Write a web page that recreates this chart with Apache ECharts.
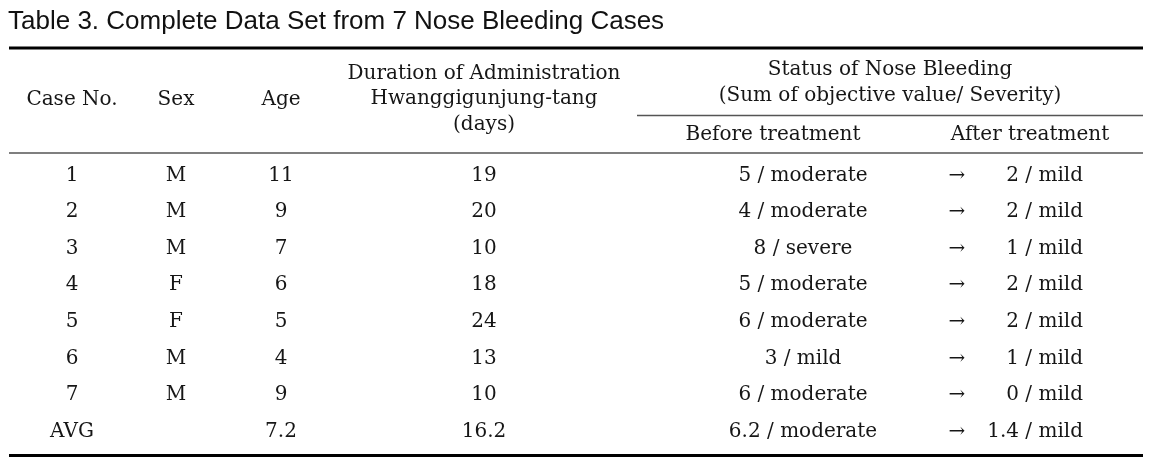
<!DOCTYPE html>
<html>
<head>
<meta charset="utf-8">
<script src="https://cdn.jsdelivr.net/npm/echarts@6/dist/echarts.min.js"></script>
<style>html,body{margin:0;padding:0;background:#fff;}#chart{width:1163px;height:462px;}</style>
</head>
<body>
<div id="chart"></div>
<script>
// ---- data ----
const titleText = 'Table 3. Complete Data Set from 7 Nose Bleeding Cases';
const caseNo = ['1', '2', '3', '4', '5', '6', '7', 'AVG'];
const sex = ['M', 'M', 'M', 'F', 'F', 'M', 'M', ''];
const age = ['11', '9', '7', '6', '5', '4', '9', '7.2'];
const duration = ['19', '20', '10', '18', '24', '13', '10', '16.2'];
const beforeScore = ['5', '4', '8', '5', '6', '3', '6', '6.2'];
const beforeSeverity = ['moderate', 'moderate', 'severe', 'moderate', 'moderate', 'mild', 'moderate', 'moderate'];
const afterScore = ['2', '2', '1', '2', '2', '1', '0', '1.4'];
const afterSeverity = ['mild', 'mild', 'mild', 'mild', 'mild', 'mild', 'mild', 'mild'];
const headCase = ['Case No.'];
const headSex = ['Sex'];
const headAge = ['Age'];
const headDuration = ['Duration of Administration', 'Hwanggigunjung-tang', '(days)'];
const headStatus = ['Status of Nose Bleeding', '(Sum of objective value/ Severity)'];
const headBefore = ['Before treatment'];
const headAfter = ['After treatment'];
const arrow = '\u2192';

// ---- layout ----
const SERIF = '"DejaVu Serif", serif';
const FS = 20;
const TXT = '#161616';
const colX = { caseNo: 72, sex: 176, age: 281, duration: 484, before: 803, arrow: 957, after: 1083 };
const rowIdx = caseNo.map((_, i) => i);

const columns = [
  { key: 'caseNo', text: caseNo, align: 'center' },
  { key: 'sex', text: sex, align: 'center' },
  { key: 'age', text: age, align: 'center' },
  { key: 'duration', text: duration, align: 'center' },
  { key: 'before', text: beforeScore.map((s, i) => s + ' / ' + beforeSeverity[i]), align: 'center' },
  { key: 'arrow', text: rowIdx.map(() => arrow), align: 'center' },
  { key: 'after', text: afterScore.map((s, i) => s + ' / ' + afterSeverity[i]), align: 'right' }
];

const series = columns.map(col => ({
  type: 'scatter',
  symbolSize: 0,
  silent: true,
  itemStyle: { opacity: 1, color: TXT },
  data: rowIdx.map(i => [colX[col.key], i]),
  label: {
    show: true,
    position: 'inside',
    align: col.align,
    verticalAlign: 'middle',
    fontFamily: SERIF,
    fontSize: FS,
    color: TXT,
    opacity: 1,
    textBorderWidth: 0,
    formatter: p => col.text[p.dataIndex]
  }
}));

function htext(str, x, y, align) {
  return { type: 'text', x: x, y: y, silent: true,
    style: { text: str, fill: TXT, font: FS + 'px ' + SERIF, textAlign: align || 'center', textVerticalAlign: 'middle' } };
}
function hline(x1, x2, y, w, c) {
  return { type: 'line', silent: true, shape: { x1: x1, y1: y, x2: x2, y2: y }, style: { stroke: c, lineWidth: w } };
}

const graphics = [
  hline(9, 1143, 48, 3, '#000'),
  hline(637, 1143, 115.5, 1.5, '#555'),
  hline(9, 1143, 153, 1.5, '#555'),
  hline(9, 1143, 455.5, 3, '#000'),
  htext(headCase[0], colX.caseNo, 100),
  htext(headSex[0], colX.sex, 100),
  htext(headAge[0], colX.age, 100),
  htext(headDuration[0], colX.duration, 74),
  htext(headDuration[1], colX.duration, 99),
  htext(headDuration[2], colX.duration, 125),
  htext(headStatus[0], 890, 70),
  htext(headStatus[1], 890, 96),
  htext(headBefore[0], 773, 135),
  htext(headAfter[0], 1030, 135)
];

const chart = echarts.init(document.getElementById('chart'), null, { renderer: 'canvas' });
chart.setOption({
  animation: false,
  backgroundColor: '#fff',
  title: {
    text: titleText, left: 3, top: 4,
    textStyle: { fontFamily: '"Liberation Sans", Arial, sans-serif', fontSize: 26, fontWeight: 'normal', color: '#111' }
  },
  grid: { left: 0, right: 0, top: 157, bottom: 12 },
  xAxis: { type: 'value', min: 0, max: 1163, show: false },
  yAxis: { type: 'category', data: caseNo, inverse: true, show: false },
  series: series,
  graphic: graphics
});
</script>
</body>
</html>
